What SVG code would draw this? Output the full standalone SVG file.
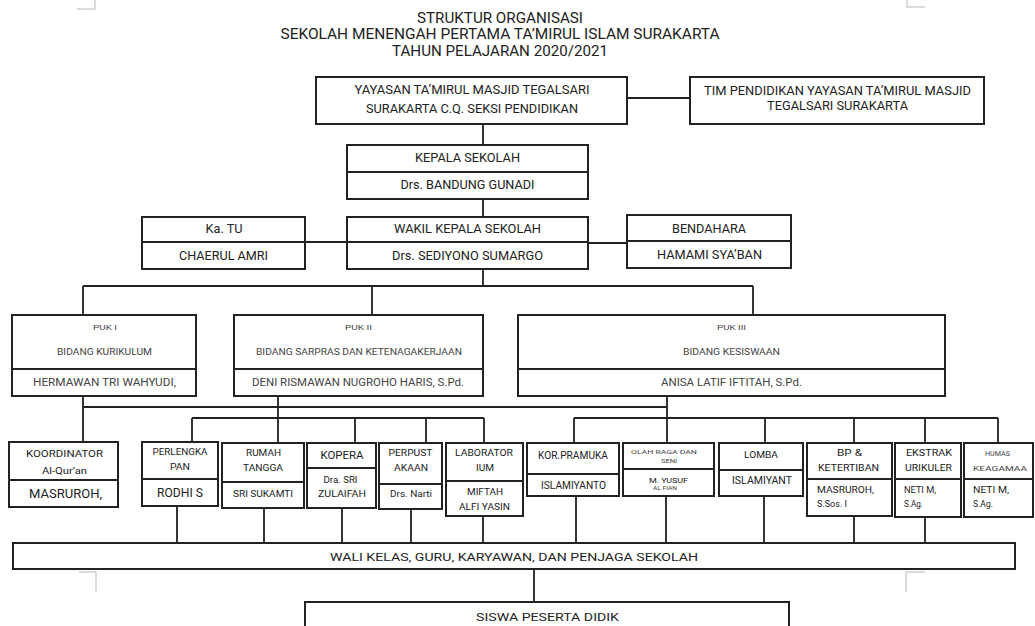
<svg xmlns="http://www.w3.org/2000/svg" width="1035" height="626" viewBox="0 0 1035 626">
<style>
.bx{fill:#fff;stroke:#222;stroke-width:2}
.dv{stroke:#222;stroke-width:2;fill:none}
.ln{stroke:#222;stroke-width:1.8;fill:none}
.mk{stroke:#d0d0d0;stroke-width:1.5;fill:none}
text{font-family:Roboto,"Liberation Sans",sans-serif;fill:#222;text-anchor:middle}
.g{fill:#444}
.l{text-anchor:start}
</style>
<rect width="1035" height="626" fill="#fff"/>
<g id="marks">
<path class="mk" d="M77 9H95V0M907 0V7H925M79 572H96V592M925 572H906V592"/>
</g>
<g id="title">
<text x="500" y="23.4" font-size="15" textLength="166" lengthAdjust="spacingAndGlyphs">STRUKTUR ORGANISASI</text>
<text x="500" y="39.4" font-size="15" textLength="439" lengthAdjust="spacingAndGlyphs">SEKOLAH MENENGAH PERTAMA TA’MIRUL ISLAM SURAKARTA</text>
<text x="500" y="56.4" font-size="15" textLength="216" lengthAdjust="spacingAndGlyphs">TAHUN PELAJARAN 2020/2021</text>
</g>
<g id="connectors">
<path class="ln" d="M483 124V145M627 98H690M483 199V217M588 243H627M483 269V286M83 286H753M83 286V315M372 286V315M753 286V315"/>
<path class="ln" stroke-width="2.6" d="M305 242H347"/>
<path class="ln" d="M83 396V442M83 407H667M278 396V443M667 396V443"/>
<path class="ln" d="M192 418H484M192 418V442M355 418V443M426 418V443M484 418V443"/>
<path class="ln" d="M574 418H998M574 418V443M765 418V443M854 418V443M925 418V443M998 418V443"/>
<path class="ln" d="M177 506V543M264 508V543M342 508V543M411 509V543M483 516V543M576 496V543M666 496V543M764 496V543M854 516V543M925 517V543"/>
<path class="ln" d="M534 569V602"/>
</g>
<g id="yayasan">
<rect class="bx" x="316" y="77" width="311" height="47"/>
<text x="472" y="93.7" font-size="13" textLength="235" lengthAdjust="spacingAndGlyphs">YAYASAN TA’MIRUL MASJID TEGALSARI</text>
<text x="472" y="112.7" font-size="13" textLength="212" lengthAdjust="spacingAndGlyphs">SURAKARTA C.Q. SEKSI PENDIDIKAN</text>
</g>
<g id="tim">
<rect class="bx" x="690" y="77" width="294" height="47"/>
<text x="837.5" y="94.6" font-size="13" textLength="267" lengthAdjust="spacingAndGlyphs">TIM PENDIDIKAN YAYASAN TA’MIRUL MASJID</text>
<text x="837.5" y="109.6" font-size="13" textLength="141" lengthAdjust="spacingAndGlyphs">TEGALSARI SURAKARTA</text>
</g>
<g id="kepala">
<rect class="bx" x="347" y="145" width="241" height="54"/>
<path class="dv" d="M347 172H588"/>
<text x="467.5" y="161.6" font-size="13" textLength="105" lengthAdjust="spacingAndGlyphs">KEPALA SEKOLAH</text>
<text x="467.5" y="188.6" font-size="13" textLength="134" lengthAdjust="spacingAndGlyphs">Drs. BANDUNG GUNADI</text>
</g>
<g id="wakil">
<rect class="bx" x="347" y="217" width="241" height="52"/>
<path class="dv" d="M347 242H588"/>
<text x="467.5" y="232.6" font-size="13" textLength="147" lengthAdjust="spacingAndGlyphs">WAKIL KEPALA SEKOLAH</text>
<text x="467.5" y="259.6" font-size="13" textLength="151" lengthAdjust="spacingAndGlyphs">Drs. SEDIYONO SUMARGO</text>
</g>
<g id="katu">
<rect class="bx" x="142" y="217" width="163" height="52"/>
<path class="dv" d="M142 242H305"/>
<text x="224" y="232.6" font-size="13" textLength="37" lengthAdjust="spacingAndGlyphs">Ka. TU</text>
<text x="223.5" y="259.6" font-size="13" textLength="89" lengthAdjust="spacingAndGlyphs">CHAERUL AMRI</text>
</g>
<g id="bendahara">
<rect class="bx" x="627" y="215" width="164" height="53"/>
<path class="dv" d="M627 241H791"/>
<text x="709" y="232.6" font-size="13" textLength="74" lengthAdjust="spacingAndGlyphs">BENDAHARA</text>
<text x="709.5" y="258.6" font-size="13" textLength="105" lengthAdjust="spacingAndGlyphs">HAMAMI SYA’BAN</text>
</g>
<g id="puk1">
<rect class="bx" x="12" y="315" width="184" height="81"/>
<path class="dv" d="M12 369H196"/>
<text class="g" x="105" y="329.9" font-size="8" textLength="24" lengthAdjust="spacingAndGlyphs">PUK I</text>
<text class="g" x="104.5" y="355.2" font-size="9" textLength="95" lengthAdjust="spacingAndGlyphs">BIDANG KURIKULUM</text>
<text class="g" x="104.5" y="385.6" font-size="10" textLength="143" lengthAdjust="spacingAndGlyphs">HERMAWAN TRI WAHYUDI,</text>
</g>
<g id="puk2">
<rect class="bx" x="234" y="315" width="249" height="81"/>
<path class="dv" d="M234 369H483"/>
<text class="g" x="358.5" y="329.9" font-size="8" textLength="27" lengthAdjust="spacingAndGlyphs">PUK II</text>
<text class="g" x="359" y="355.2" font-size="9" textLength="206" lengthAdjust="spacingAndGlyphs">BIDANG SARPRAS DAN KETENAGAKERJAAN</text>
<text class="g" x="358" y="385.6" font-size="10" textLength="212" lengthAdjust="spacingAndGlyphs">DENI RISMAWAN NUGROHO HARIS, S.Pd.</text>
</g>
<g id="puk3">
<rect class="bx" x="518" y="315" width="427" height="81"/>
<path class="dv" d="M518 369H945"/>
<text class="g" x="731.5" y="329.9" font-size="8" textLength="29" lengthAdjust="spacingAndGlyphs">PUK III</text>
<text class="g" x="731.5" y="355.2" font-size="9" textLength="97" lengthAdjust="spacingAndGlyphs">BIDANG KESISWAAN</text>
<text class="g" x="731.5" y="385.6" font-size="10" textLength="141" lengthAdjust="spacingAndGlyphs">ANISA LATIF IFTITAH, S.Pd.</text>
</g>
<g id="koordinator">
<rect class="bx" x="9" y="442" width="109" height="65"/>
<path class="dv" d="M9 480H118"/>
<text x="64.5" y="456.5" font-size="9.5" textLength="77" lengthAdjust="spacingAndGlyphs">KOORDINATOR</text>
<text x="64.5" y="473.5" font-size="9.5" textLength="45" lengthAdjust="spacingAndGlyphs">Al-Qur’an</text>
<text x="65.5" y="497.7" font-size="13" textLength="73" lengthAdjust="spacingAndGlyphs">MASRUROH,</text>
</g>
<g id="perlengkapan">
<rect class="bx" x="142" y="442" width="76" height="64"/>
<path class="dv" d="M142 479H218"/>
<text x="180" y="455.3" font-size="9" textLength="55" lengthAdjust="spacingAndGlyphs">PERLENGKA</text>
<text x="180" y="470.3" font-size="9" textLength="20" lengthAdjust="spacingAndGlyphs">PAN</text>
<text x="180" y="496.7" font-size="13" textLength="46" lengthAdjust="spacingAndGlyphs">RODHI S</text>
</g>
<g id="rumahtangga">
<rect class="bx" x="222" y="443" width="82" height="65"/>
<path class="dv" d="M222 482H304"/>
<text x="263.5" y="456.3" font-size="9" textLength="35" lengthAdjust="spacingAndGlyphs">RUMAH</text>
<text x="263" y="471.3" font-size="9" textLength="40" lengthAdjust="spacingAndGlyphs">TANGGA</text>
<text x="263" y="497.3" font-size="9" textLength="60" lengthAdjust="spacingAndGlyphs">SRI SUKAMTI</text>
</g>
<g id="kopera">
<rect class="bx" x="307" y="443" width="69" height="65"/>
<path class="dv" d="M307 468H376"/>
<text x="342" y="458.6" font-size="10" textLength="43" lengthAdjust="spacingAndGlyphs">KOPERA</text>
<text x="340.5" y="483.3" font-size="9" textLength="34" lengthAdjust="spacingAndGlyphs">Dra. SRI</text>
<text x="342" y="497.3" font-size="9" textLength="48" lengthAdjust="spacingAndGlyphs">ZULAIFAH</text>
</g>
<g id="perpustakaan">
<rect class="bx" x="379" y="443" width="63" height="66"/>
<path class="dv" d="M379 484H442"/>
<text x="410.5" y="456.3" font-size="9" textLength="44" lengthAdjust="spacingAndGlyphs">PERPUST</text>
<text x="411" y="471.3" font-size="9" textLength="34" lengthAdjust="spacingAndGlyphs">AKAAN</text>
<text x="411" y="497.3" font-size="9" textLength="42" lengthAdjust="spacingAndGlyphs">Drs. Narti</text>
</g>
<g id="laboratorium">
<rect class="bx" x="446" y="443" width="77" height="73"/>
<path class="dv" d="M446 481H523"/>
<text x="484" y="456.3" font-size="9" textLength="58" lengthAdjust="spacingAndGlyphs">LABORATOR</text>
<text x="485" y="471.3" font-size="9" textLength="18" lengthAdjust="spacingAndGlyphs">IUM</text>
<text x="485" y="495.3" font-size="9" textLength="36" lengthAdjust="spacingAndGlyphs">MIFTAH</text>
<text x="484.5" y="510.3" font-size="9" textLength="51" lengthAdjust="spacingAndGlyphs">ALFI YASIN</text>
</g>
<g id="pramuka">
<rect class="bx" x="527" y="443" width="92" height="53"/>
<path class="dv" d="M527 474H619"/>
<text x="573" y="458.6" font-size="10" textLength="70" lengthAdjust="spacingAndGlyphs">KOR.PRAMUKA</text>
<text x="573.5" y="488.6" font-size="10" textLength="65" lengthAdjust="spacingAndGlyphs">ISLAMIYANTO</text>
</g>
<g id="olahraga">
<rect class="bx" x="623" y="443" width="91" height="53"/>
<path class="dv" d="M623 469H714"/>
<text class="g" x="664" y="454.2" font-size="6" textLength="66" lengthAdjust="spacingAndGlyphs">OLAH RAGA DAN</text>
<text class="g" x="669" y="463.2" font-size="6" textLength="16" lengthAdjust="spacingAndGlyphs">SENI</text>
<text x="668.5" y="482.9" font-size="8" textLength="39" lengthAdjust="spacingAndGlyphs">M. YUSUF</text>
<text class="g" x="665" y="490.2" font-size="6" textLength="24" lengthAdjust="spacingAndGlyphs">AL FIAN</text>
</g>
<g id="lomba">
<rect class="bx" x="719" y="443" width="84" height="53"/>
<path class="dv" d="M719 470H803"/>
<text x="761" y="458.3" font-size="9" textLength="34" lengthAdjust="spacingAndGlyphs">LOMBA</text>
<text x="762" y="483.6" font-size="10" textLength="60" lengthAdjust="spacingAndGlyphs">ISLAMIYANT</text>
</g>
<g id="bp">
<rect class="bx" x="807" y="443" width="85" height="73"/>
<path class="dv" d="M807 479H892"/>
<text x="849.5" y="456.3" font-size="9" textLength="25" lengthAdjust="spacingAndGlyphs">BP &amp;</text>
<text x="848.5" y="471.3" font-size="9" textLength="61" lengthAdjust="spacingAndGlyphs">KETERTIBAN</text>
<text class="l" x="817" y="493.3" font-size="9" textLength="57" lengthAdjust="spacingAndGlyphs">MASRUROH,</text>
<text class="l" x="817" y="507.3" font-size="9" textLength="30" lengthAdjust="spacingAndGlyphs">S.Sos. I</text>
</g>
<g id="ekstrakurikuler">
<rect class="bx" x="895" y="443" width="66" height="74"/>
<path class="dv" d="M895 479H961"/>
<text x="929" y="456.3" font-size="9" textLength="46" lengthAdjust="spacingAndGlyphs">EKSTRAK</text>
<text x="928.5" y="471.3" font-size="9" textLength="47" lengthAdjust="spacingAndGlyphs">URIKULER</text>
<text class="l" x="904" y="493.3" font-size="9" textLength="32" lengthAdjust="spacingAndGlyphs">NETI M,</text>
<text class="l" x="904" y="507.3" font-size="9" textLength="19" lengthAdjust="spacingAndGlyphs">S.Ag.</text>
</g>
<g id="humas">
<rect class="bx" x="964" y="443" width="69" height="74"/>
<path class="dv" d="M964 479H1033"/>
<text class="g" x="997.5" y="455.5" font-size="7" textLength="25" lengthAdjust="spacingAndGlyphs">HUMAS</text>
<text class="g" x="1000" y="470.9" font-size="8" textLength="54" lengthAdjust="spacingAndGlyphs">KEAGAMAA</text>
<text class="l" x="973" y="493.3" font-size="9" textLength="36" lengthAdjust="spacingAndGlyphs">NETI M,</text>
<text class="l" x="973" y="507.3" font-size="9" textLength="20" lengthAdjust="spacingAndGlyphs">S.Ag.</text>
</g>
<g id="wali">
<rect class="bx" x="13" y="543" width="1002" height="26"/>
<text x="514" y="561" font-size="11" textLength="368" lengthAdjust="spacingAndGlyphs">WALI KELAS, GURU, KARYAWAN, DAN PENJAGA SEKOLAH</text>
</g>
<g id="siswa">
<rect class="bx" x="305" y="602" width="484" height="30"/>
<text x="547.5" y="621" font-size="11" textLength="143" lengthAdjust="spacingAndGlyphs">SISWA PESERTA DIDIK</text>
</g>
</svg>
